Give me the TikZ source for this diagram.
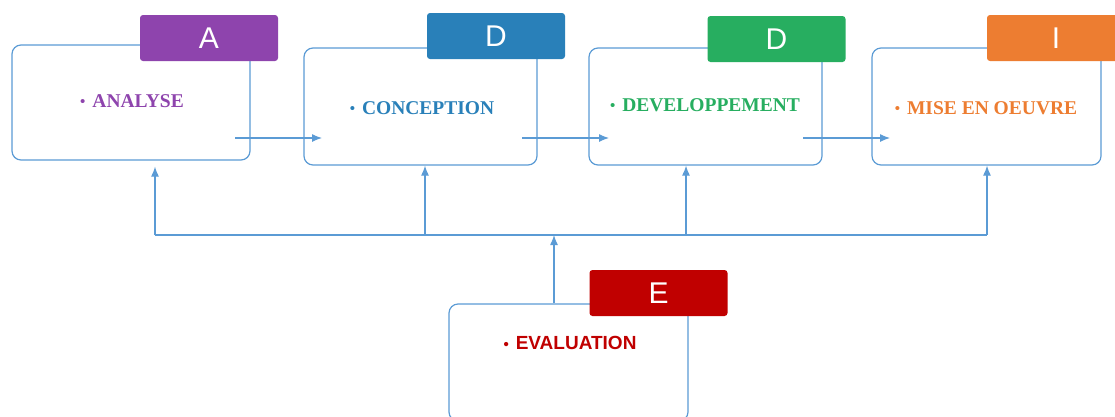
\documentclass[tikz,border=0pt]{standalone}
\usepackage{fontspec}
\setmainfont{Liberation Serif}
\setsansfont{Liberation Sans}
\usetikzlibrary{arrows.meta,calc}
\definecolor{edge}{HTML}{5B9BD5}
\definecolor{cpurple}{HTML}{8E44AD}
\definecolor{cblue}{HTML}{2980B9}
\definecolor{cgreen}{HTML}{27AE60}
\definecolor{corange}{HTML}{ED7D31}
\definecolor{cred}{HTML}{C00000}
\newcommand{\dotb}{\raisebox{0.05ex}{\fontsize{15}{15}\selectfont\textbullet}\hspace{7pt}}
\tikzset{
  box/.style={draw=edge, line width=1.2pt, rounded corners=9pt, fill=white,
    minimum width=233, minimum height=117},
  tab/.style={fill=#1, rounded corners=3pt, minimum width=138, minimum height=46,
    text=white, font=\sffamily\fontsize{30}{30}\selectfont},
  item/.style={text=#1, font=\bfseries\fontsize{19.5}{19.5}\selectfont},
  arr/.style={draw=edge, line width=1.2pt, -{Latex[length=10pt,width=8pt]}},
  link/.style={draw=edge, line width=1.2pt},
}

\begin{document}
\begin{tikzpicture}[x=1pt,y=-1pt]
\useasboundingbox (0,0) rectangle (1115,416);

% boxes
\node[box, minimum width=238, minimum height=115] (anl) at (131,102.5) {};
\node[box] (cnc) at (420.5,106.5) {};
\node[box] (dev) at (705.5,106.5) {};
\node[box, minimum width=229] (mise) at (986.5,106.5) {};
\node[box, minimum width=239] (eval) at (568.5,362.5) {};

% tabs
\node[tab=cpurple] (tabA) at (209,38) {A};
\node[tab=cblue] (tabC) at (496,36) {D};
\node[tab=cgreen] (tabD) at (776.5,39) {D};
\node[tab=corange] (tabI) at (1056,38) {I};
\node[tab=cred] (tabE) at (658.5,293) {E};

% texts
\node[item=cpurple] (txA) at (132,101) {\dotb ANALYSE};
\node[item=cblue] (txC) at (422,108) {\dotb CONCEPTION};
\node[item=cgreen] (txD) at (705,105) {\dotb DEVELOPPEMENT};
\node[item=corange] (txI) at (986,108) {\dotb MISE EN OEUVRE};
\node[item=cred, font=\sffamily\bfseries\fontsize{19}{19}\selectfont] (txE) at (570,343) {\dotb EVALUATION};

% forward arrows
\coordinate (o1) at (235,138); \coordinate (i1) at (322,138);
\coordinate (o2) at (522,138); \coordinate (i2) at (609,138);
\coordinate (o3) at (803,138); \coordinate (i3) at (890,138);
\draw[arr] (o1) -- (i1);
\draw[arr] (o2) -- (i2);
\draw[arr] (o3) -- (i3);

% feedback
\coordinate (fA) at (155,235);
\coordinate (fC) at (425,235);
\coordinate (fD) at (686,235);
\coordinate (fI) at (987,235);
\coordinate (fE) at (554,235);
\draw[link] (fA) -- (fI);
\draw[arr] (fA) -- ($(anl.south -| fA)+(0,6)$);
\draw[arr] (fC) -- (cnc.south -| fC);
\draw[arr] (fD) -- (dev.south -| fD);
\draw[arr] (fI) -- (mise.south -| fI);
\draw[arr] (eval.north -| fE) -- (fE);
\end{tikzpicture}
\end{document}
